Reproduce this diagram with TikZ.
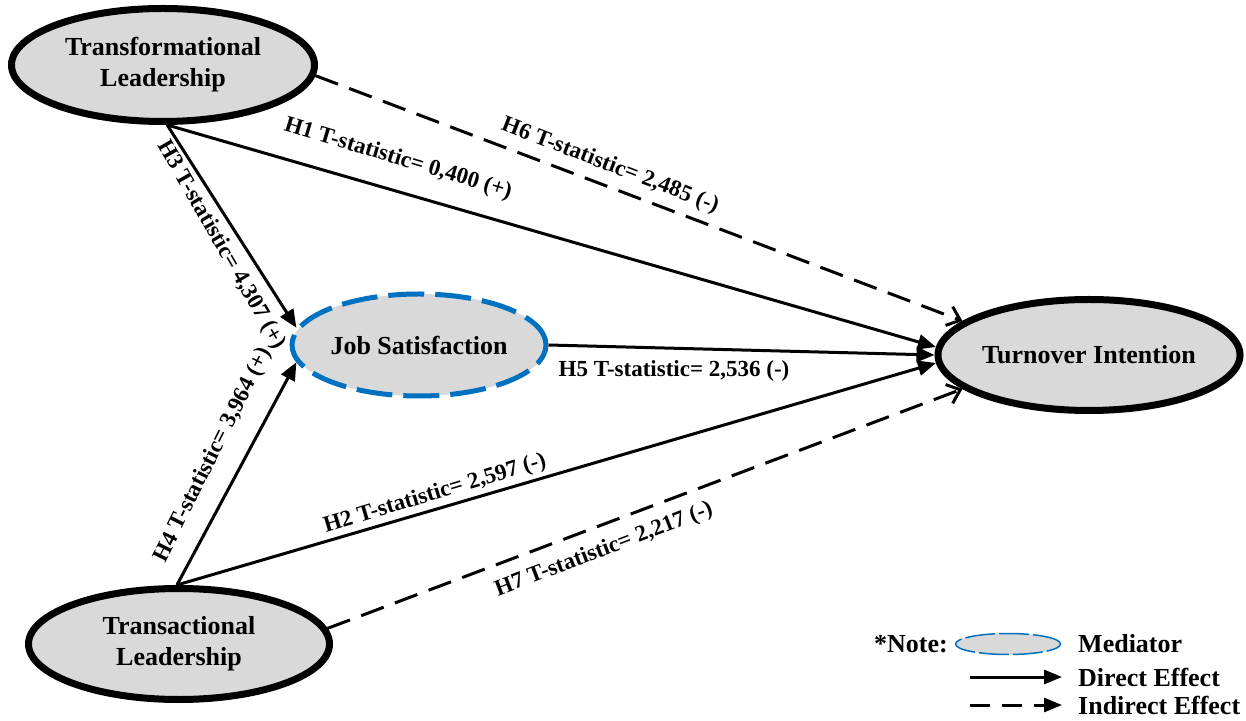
\documentclass[tikz,border=0pt]{standalone}
\usepackage{fontspec}
\setmainfont{Liberation Serif}
\usetikzlibrary{shapes.geometric,arrows.meta}
\definecolor{fillgray}{RGB}{217,217,217}
\definecolor{medblue}{RGB}{0,112,192}
\begin{document}
\begin{tikzpicture}[x=1pt,y=1pt,
  construct/.style={ellipse,draw=black,line width=7pt,fill=fillgray,inner sep=0pt,
    align=center,font=\fontsize{26}{31}\selectfont\bfseries},
  mediator/.style={ellipse,draw=medblue,line width=5pt,fill=fillgray,inner sep=0pt,
    dash pattern=on 36pt off 11pt,font=\fontsize{26}{29}\selectfont\bfseries},
  direct/.style={line width=3pt,-{Triangle[length=18pt,width=15pt]}},
  indirect/.style={line width=3pt,dash pattern=on 24pt off 12pt,
    -{Straight Barb[length=12pt,width=20pt,line width=3pt]}},
  lbl/.style={font=\fontsize{23}{25}\selectfont\bfseries,inner sep=0pt},
  legtext/.style={font=\fontsize{26}{29}\selectfont\bfseries,inner sep=0pt,anchor=west}
]
\useasboundingbox (0,0) rectangle (1246,720);
% constructs
\node[construct,minimum width=303pt,minimum height=113pt] (TL) at (163,655) {Transformational\\Leadership};
\node[construct,minimum width=301pt,minimum height=111pt] (TrL) at (179,76) {Transactional\\Leadership};
\node[mediator,minimum width=254pt,minimum height=102pt] (JS) at (419,375) {Job Satisfaction};
\node[construct,minimum width=301pt,minimum height=111pt] (TI) at (1089,365) {Turnover Intention};
% direct effects
\draw[direct] (TL.-86) -- (TI.177);
\draw[direct] (TL.-86) -- (JS.172);
\draw[direct] (JS.east) -- (TI.west);
\draw[direct] (TrL.92) -- (TI.183);
\draw[direct] (TrL.92) -- (JS.188);
% indirect effects
\draw[indirect] (TL.-4) -- (TI.165);
\draw[indirect] (TrL.6) -- (TI.195);
% labels
\node[lbl,rotate=-16.7] (l1) at (398,561) {H1 T-statistic= 0,400 (+)};
\node[lbl,rotate=-21] (l6) at (610,554) {H6 T-statistic= 2,485 (-)};
\node[lbl,rotate=-60] (l3) at (221,475) {H3 T-statistic= 4,307 (+)};
\node[lbl,rotate=63.4] (l4) at (213,265) {H4 T-statistic= 3,964 (+)};
\node[lbl] (l5) at (674,349) {H5 T-statistic= 2,536 (-)};
\node[lbl,rotate=16.7] (l2) at (435,226) {H2 T-statistic= 2,597 (-)};
\node[lbl,rotate=20.8] (l7) at (604,170) {H7 T-statistic= 2,217 (-)};
% legend
\node[legtext,anchor=east] (note) at (948,76) {*Note:};
\node[ellipse,draw=medblue,line width=1.5pt,fill=fillgray,dash pattern=on 30pt off 4pt,
  minimum width=105pt,minimum height=21pt,inner sep=0pt] (legmed) at (1008,76) {};
\node[legtext] (tmed) at (1078,76) {Mediator};
\node[legtext] (tdir) at (1078,43) {Direct Effect};
\node[legtext] (tind) at (1078,15) {Indirect Effect};
\coordinate (d1) at (970,43);
\coordinate (d2) at (1062,43);
\coordinate (i1) at (970,15);
\coordinate (i2) at (1062,15);
\draw[line width=3pt,-{Triangle[length=18pt,width=14pt]}] (d1) -- (d2);
\draw[line width=3pt,dash pattern=on 20pt off 12pt,-{Triangle[length=18pt,width=14pt]}] (i1) -- (i2);
\end{tikzpicture}
\end{document}
